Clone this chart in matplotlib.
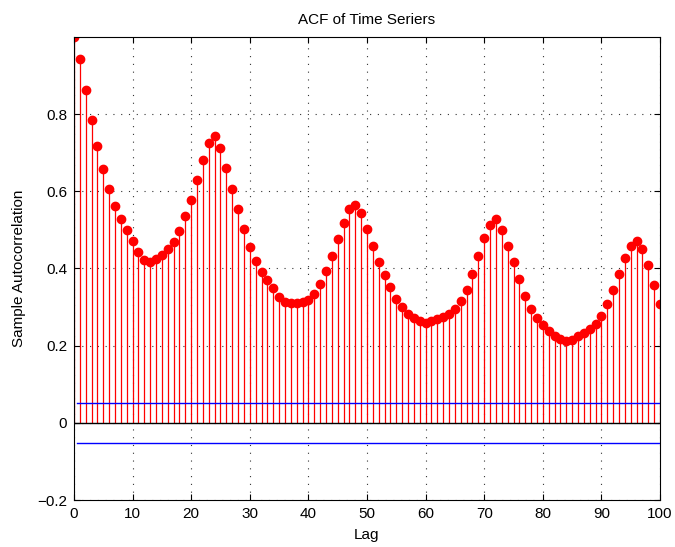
import numpy as np
import matplotlib.pyplot as plt

plt.rcParams['font.family'] = ['Liberation Sans', 'DejaVu Sans']

# sample autocorrelation, lags 0..100
lags = np.arange(0, 101)
acf = [1.000, 0.944, 0.862, 0.784, 0.717, 0.657, 0.605, 0.562, 0.528, 0.500,
       0.472, 0.443, 0.423, 0.417, 0.424, 0.435, 0.450, 0.469, 0.498, 0.536,
       0.577, 0.629, 0.681, 0.726, 0.743, 0.713, 0.661, 0.606, 0.553, 0.503,
       0.457, 0.420, 0.392, 0.370, 0.349, 0.327, 0.313, 0.311, 0.311, 0.313,
       0.319, 0.335, 0.361, 0.394, 0.433, 0.476, 0.518, 0.553, 0.565, 0.543,
       0.503, 0.458, 0.418, 0.384, 0.352, 0.322, 0.299, 0.282, 0.271, 0.265,
       0.260, 0.265, 0.268, 0.273, 0.282, 0.294, 0.315, 0.345, 0.386, 0.432,
       0.479, 0.514, 0.527, 0.501, 0.459, 0.417, 0.373, 0.330, 0.296, 0.271,
       0.253, 0.239, 0.226, 0.218, 0.212, 0.215, 0.224, 0.232, 0.242, 0.256,
       0.278, 0.308, 0.344, 0.386, 0.428, 0.459, 0.470, 0.451, 0.408, 0.358,
       0.309]
bound = 0.052

fig = plt.figure(figsize=(6.75, 5.47), dpi=100)
ax = fig.add_axes([0.1096, 0.0859, 0.8682, 0.8465])

markerline, stemlines, baseline = ax.stem(lags, acf, linefmt='r-', markerfmt='ro', basefmt='k-')
stemlines.set_linewidth(0.9)
markerline.set_markersize(6)
baseline.set_linewidth(1.0)

# confidence bounds
ax.plot([0.5, 100.5], [bound, bound], color='#0000ff', lw=1.0, zorder=4)
ax.plot([0.5, 100.5], [-bound, -bound], color='#0000ff', lw=1.0, zorder=4)

ax.set_xlim(0, 100)
ax.set_ylim(-0.2, 1.0)
ax.set_xticks(np.arange(0, 101, 10))
ax.set_yticks([-0.2, 0, 0.2, 0.4, 0.6, 0.8])
ax.set_yticklabels(['\u22120.2', '0', '0.2', '0.4', '0.6', '0.8'])
ax.tick_params(direction='in', top=True, right=True, labelsize=11, length=4, pad=5)
ax.grid(True, linestyle=(0, (1, 6)), color='0.2', linewidth=0.8)
ax.set_axisbelow(True)

ax.set_title('ACF of Time Seriers', fontsize=11, pad=9)
ax.set_xlabel('Lag', fontsize=11, labelpad=5)
ax.set_ylabel('Sample Autocorrelation', fontsize=11, labelpad=8)

fig.savefig('out.png', dpi=100)
